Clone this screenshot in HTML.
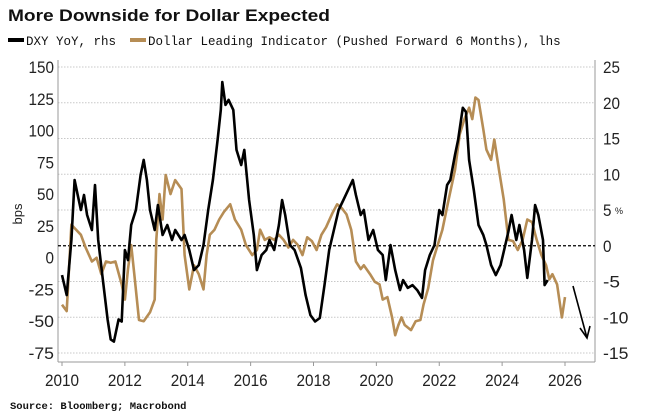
<!DOCTYPE html>
<html><head><meta charset="utf-8"><style>
body{margin:0;background:#fff;}
svg{display:block;font-family:"Liberation Sans",sans-serif;}
</style></head><body>
<svg id="c" width="654" height="420" viewBox="0 0 654 420">
<text x="8" y="21" font-size="17" font-weight="bold" fill="#111" textLength="322" lengthAdjust="spacingAndGlyphs">More Downside for Dollar Expected</text>
<g>
<rect x="8" y="38" width="16" height="4" fill="#000"/>
<text x="26" y="45" font-size="12.5" font-family="Liberation Mono,monospace" fill="#111">DXY YoY, rhs</text>
<rect x="130" y="38" width="16" height="4" fill="#b68d55"/>
<text x="148" y="45" font-size="12.5" font-family="Liberation Mono,monospace" fill="#111">Dollar Leading Indicator (Pushed Forward 6 Months), lhs</text>
</g>
<g id="plot"></g>
<text x="10" y="409" font-size="10.5" font-weight="bold" font-family="Liberation Mono,monospace" fill="#111">Source: Bloomberg; Macrobond</text>
</svg>
<script>
const leftTicks=[150,125,100,75,50,25,0,-25,-50,-75];
const rightTicks=[25,20,15,10,5,0,-5,-10,-15];
const yearTicks=[2010,2012,2014,2016,2018,2020,2022,2024,2026];
const dxyYears=[2010.0,2010.15,2010.3,2010.4,2010.5,2010.6,2010.7,2010.8,2010.95,2011.05,2011.15,2011.3,2011.45,2011.55,2011.65,2011.8,2011.9,2012.0,2012.1,2012.2,2012.35,2012.5,2012.6,2012.7,2012.8,2012.95,2013.05,2013.2,2013.35,2013.5,2013.6,2013.8,2013.9,2014.05,2014.2,2014.35,2014.5,2014.65,2014.8,2014.95,2015.05,2015.1,2015.2,2015.3,2015.45,2015.55,2015.7,2015.8,2015.95,2016.1,2016.2,2016.35,2016.5,2016.6,2016.75,2016.9,2017.0,2017.1,2017.25,2017.4,2017.6,2017.75,2017.9,2018.05,2018.2,2018.35,2018.5,2018.65,2018.8,2018.95,2019.1,2019.25,2019.35,2019.5,2019.6,2019.75,2019.9,2020.05,2020.2,2020.3,2020.45,2020.6,2020.75,2020.85,2021.0,2021.15,2021.3,2021.45,2021.55,2021.7,2021.85,2022.0,2022.1,2022.25,2022.35,2022.5,2022.6,2022.75,2022.85,2022.95,2023.1,2023.25,2023.4,2023.5,2023.65,2023.8,2023.95,2024.1,2024.2,2024.3,2024.45,2024.55,2024.7,2024.8,2024.95,2025.05,2025.15,2025.3,2025.35,2025.45];
const dxyValues=[-4.1,-6.9,0.8,9.2,7.1,5.0,7.1,4.3,2.2,8.5,0.8,-4.8,-10.3,-13.1,-13.4,-10.3,-10.6,-0.6,-2.0,2.9,5.0,9.9,12.0,9.2,5.0,2.2,5.7,1.5,2.9,0.8,2.2,0.8,1.5,-0.6,-3.4,-2.7,0.1,5.0,9.2,14.8,19.0,22.9,19.7,20.4,19.0,13.4,11.3,13.4,6.4,1.5,-3.4,-1.3,-0.6,0.8,-0.6,2.9,6.4,4.3,0.1,-0.6,-3.1,-6.9,-9.7,-10.6,-10.1,-5.5,-0.6,2.2,5.0,6.4,7.8,9.2,7.1,4.3,5.0,0.8,2.2,-0.6,-1.3,-4.8,0.1,-3.4,-6.2,-4.8,-5.9,-5.5,-6.2,-7.3,-3.4,-1.3,0.1,5.0,4.3,8.5,9.2,12.7,14.8,19.3,18.7,12.0,7.8,2.9,1.5,0.1,-2.7,-4.1,-2.7,0.1,2.0,4.3,0.8,2.9,-0.6,-4.5,0.8,5.7,4.3,0.8,-5.5,-4.8];
const leadYears=[2010.0,2010.15,2010.3,2010.45,2010.6,2010.75,2010.95,2011.1,2011.25,2011.4,2011.55,2011.7,2011.9,2012.0,2012.1,2012.2,2012.3,2012.45,2012.6,2012.8,2012.95,2013.0,2013.1,2013.2,2013.3,2013.45,2013.6,2013.8,2013.9,2014.05,2014.2,2014.35,2014.5,2014.6,2014.7,2014.85,2015.0,2015.15,2015.35,2015.5,2015.7,2015.85,2016.05,2016.2,2016.3,2016.45,2016.6,2016.75,2016.9,2017.05,2017.2,2017.35,2017.5,2017.65,2017.8,2017.95,2018.1,2018.25,2018.4,2018.6,2018.75,2018.9,2019.05,2019.2,2019.35,2019.5,2019.6,2019.8,2019.95,2020.1,2020.2,2020.35,2020.5,2020.6,2020.7,2020.8,2020.9,2021.1,2021.25,2021.4,2021.5,2021.65,2021.8,2021.95,2022.1,2022.3,2022.5,2022.65,2022.8,2022.95,2023.05,2023.15,2023.25,2023.4,2023.5,2023.65,2023.75,2023.9,2024.05,2024.2,2024.35,2024.5,2024.65,2024.8,2024.95,2025.1,2025.25,2025.4,2025.5,2025.6,2025.75,2025.9,2026.0];
const leadValues=[-37,-42,26,22,18,8,-3,0,-13,-3,-4,-3,-21,-33,-9,10,-13,-49,-50,-43,-33,14,50,30,65,50,61,54,2,-25,-6,-13,-25,2,18,22,30,36,42,30,22,10,2,6,22,14,16,14,18,14,8,14,10,2,16,13,6,18,24,35,42,39,34,22,-3,-9,-6,-13,-19,-21,-33,-31,-47,-61,-53,-47,-53,-57,-50,-49,-37,-24,-2,10,22,46,69,97,109,118,109,126,124,101,85,77,93,69,46,14,13,6,14,30,28,14,2,-6,-17,-13,-21,-47,-31];
const NS='http://www.w3.org/2000/svg';
const g=document.getElementById('plot');
const X0=58,X1=595,Y0=67,Y1=353;
function xs(yr){return 62+(yr-2010)*(565-62)/16;}
function yl(v){return Y0+(150-v)*(Y1-Y0)/225;}
function yr(v){return Y0+(25-v)*(Y1-Y0)/40;}
function mk(t,a){const e=document.createElementNS(NS,t);for(const k in a)e.setAttribute(k,a[k]);g.appendChild(e);return e;}
function lab(x,y,s,anchor){
  const t=mk('text',{x:x,y:y,'font-size':17,fill:'#222','text-anchor':anchor,textLength:(String(s).length*8.5),lengthAdjust:'spacingAndGlyphs'});
  t.textContent=s;return t;
}
rightTicks.forEach(v=>{
  if(v!==0){const l=mk('line',{x1:X0,x2:X1,y1:yr(v),y2:yr(v),stroke:'#c8c8c8','stroke-width':1,'stroke-dasharray':'1.5,1.5'});
  
  }
  const t=lab(X1+8,yr(v)+6,v,'start');
  
  
});
leftTicks.forEach(v=>{
  const t=lab(X0-4,yl(v)+6,v,'end');
  
  
});
yearTicks.forEach(y=>{
  const t=lab(xs(y),386,y,'middle');
  
  
  const k=mk('line',{x1:xs(y),x2:xs(y),y1:362,y2:366,stroke:'#999'});
  
  
});
let a=mk('line',{x1:X0,x2:X0,y1:60,y2:362,stroke:'#999'});
a=mk('line',{x1:X1,x2:X1,y1:60,y2:362,stroke:'#999'});
a=mk('line',{x1:X0,x2:X1,y1:362,y2:362,stroke:'#999'});
const zl=mk('line',{x1:X0,x2:X1,y1:yr(0),y2:yr(0),stroke:'#000','stroke-width':1.2,'stroke-dasharray':'3,2'});


const bt=mk('text',{x:0,y:0,'font-size':13,fill:'#222',transform:'translate(22,214) rotate(-90)','text-anchor':'middle'});bt.textContent='bps';


const pt=mk('text',{x:X1+20,y:yr(5)+4,'font-size':9,fill:'#222'});pt.textContent='%';


const lp=mk('path',{d:leadYears.map((y,i)=>(i?'L':'M')+xs(y).toFixed(1)+','+yl(leadValues[i]).toFixed(1)).join(''),fill:'none',stroke:'#b68d55','stroke-width':2.6,'stroke-linejoin':'round'});


const dp=mk('path',{d:dxyYears.map((y,i)=>(i?'L':'M')+xs(y).toFixed(1)+','+yr(dxyValues[i]).toFixed(1)).join(''),fill:'none',stroke:'#000','stroke-width':2.6,'stroke-linejoin':'round'});


const ar=mk('path',{d:'M573,286L587,338M580,328L587,338L590,326',fill:'none',stroke:'#000','stroke-width':1.6});


</script>
</body></html>
